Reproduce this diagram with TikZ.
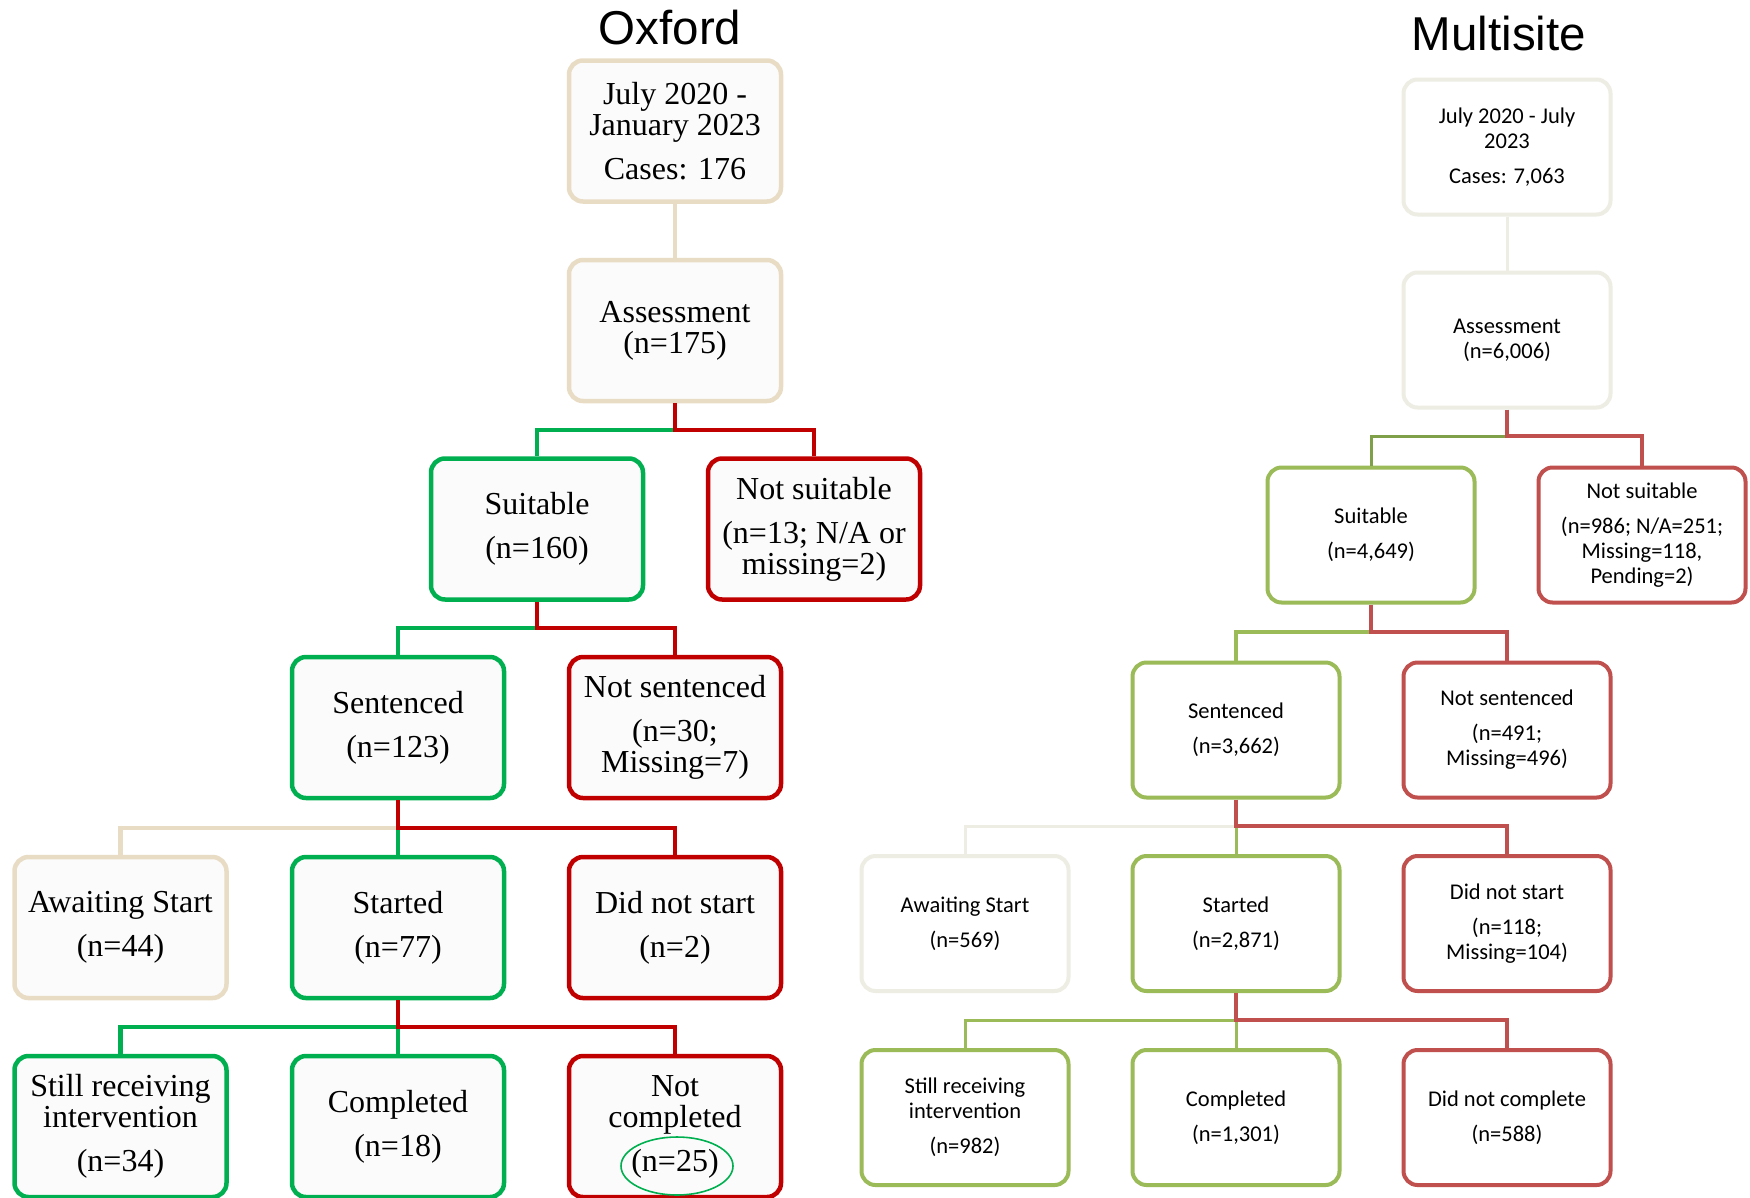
\documentclass[tikz,border=0pt]{standalone}
\usepackage{fontspec}
\newfontfamily\oxfont{Liberation Serif}
\newfontfamily\msfont{Carlito}
\newfontfamily\ttlfont{Liberation Sans}
\definecolor{oxbeige}{HTML}{E9DCC5}
\definecolor{oxgreen}{HTML}{00B050}
\definecolor{oxred}{HTML}{C00000}
\definecolor{oxfill}{HTML}{FBFBFB}
\definecolor{msbeige}{HTML}{EEEDE4}
\definecolor{msgreen}{HTML}{9BBB59}
\definecolor{msgreendk}{HTML}{7FA048}
\definecolor{msred}{HTML}{C0504D}
\tikzset{
  oxbox/.style={draw, line width=4.5, rounded corners=14, fill=oxfill,
    minimum width=212, minimum height=141, align=center, inner sep=0,
    font=\oxfont\fontsize{32}{31}\selectfont},
  msbox/.style={draw, line width=4, rounded corners=14, fill=white,
    minimum width=207, minimum height=135, align=center, inner sep=0,
    font=\msfont\fontsize{22.5}{25}\selectfont},
  oxline/.style={line width=4.5},
  msthin/.style={line width=3},
  msthick/.style={line width=4},
  ttl/.style={font=\ttlfont\fontsize{47.5}{50}\selectfont, anchor=base, inner sep=0}
}
\begin{document}
\begin{tikzpicture}[x=1pt,y=-1pt]
\useasboundingbox (0,0) rectangle (1750,1197);
\clip (0,0) rectangle (1750,1197);
\fill[white] (0,0) rectangle (1750,1197);

% titles
\node[ttl] (t1) at (670,44) {Oxford};
\node[ttl] (t2) at (1499,50) {Multisite};

% ---------------- Oxford ----------------
\node[oxbox, draw=oxbeige] (o1) at (675,131) {July 2020 -\\January 2023\\[13pt]Cases: 176};
\node[oxbox, draw=oxbeige] (o2) at (675,330.5) {Assessment\\(n=175)};
\node[oxbox, draw=oxgreen] (o3) at (537,529) {Suitable\\[13pt](n=160)};
\node[oxbox, draw=oxred] (o4) at (814,529) {Not suitable\\[13pt](n=13; N/A or\\missing=2)};
\node[oxbox, draw=oxgreen] (o5) at (398,727.5) {Sentenced\\[13pt](n=123)};
\node[oxbox, draw=oxred] (o6) at (675,727.5) {Not sentenced\\[13pt](n=30;\\Missing=7)};
\node[oxbox, draw=oxbeige] (o7) at (120.5,927.5) {Awaiting Start\\[13pt](n=44)};
\node[oxbox, draw=oxgreen] (o8) at (398,927.5) {Started\\[13pt](n=77)};
\node[oxbox, draw=oxred] (o9) at (675,927.5) {Did not start\\[13pt](n=2)};
\node[oxbox, draw=oxgreen] (o10) at (120.5,1126.5) {Still receiving\\intervention\\[13pt](n=34)};
\node[oxbox, draw=oxgreen] (o11) at (398,1126.5) {Completed\\[13pt](n=18)};
\node[oxbox, draw=oxred] (o12) at (675,1126.5) {Not\\completed\\[13pt](n=25)};

\coordinate (oj1) at (675,430);
\coordinate (oj2) at (537,628);
\coordinate (oj3) at (398,828);
\coordinate (oj4) at (398,1027);

\draw[oxline, oxbeige] (o1) -- (o2);
\draw[oxline, oxgreen] (oj1) -| (o3.north);
\draw[oxline, oxred] (o2.south) -- (oj1) -| (o4.north);
\draw[oxline, oxgreen] (oj2) -| (o5.north);
\draw[oxline, oxred] (o3.south) -- (oj2) -| (o6.north);
\draw[oxline, oxbeige] (oj3) -| (o7.north);
\draw[oxline, oxgreen] (oj3) -- (o8.north);
\draw[oxline, oxred] (o5.south) -- (oj3) -| (o9.north);
\draw[oxline, oxgreen] (oj4) -| (o10.north);
\draw[oxline, oxgreen] (oj4) -- (o11.north);
\draw[oxline, oxred] (o8.south) -- (oj4) -| (o12.north);

\draw[oxgreen, line width=1.6] (677,1166) ellipse [x radius=56, y radius=29];

% ---------------- Multisite ----------------
\node[msbox, draw=msbeige] (m1) at (1507,147) {July 2020 - July\\2023\\[10pt]Cases: 7,063};
\node[msbox, draw=msbeige] (m2) at (1507,340) {Assessment\\(n=6,006)};
\node[msbox, draw=msgreen] (m3) at (1371,535) {Suitable\\[10pt](n=4,649)};
\node[msbox, draw=msred] (m4) at (1642,535) {Not suitable\\[10pt](n=986; N/A=251;\\Missing=118,\\Pending=2)};
\node[msbox, draw=msgreen] (m5) at (1236,730) {Sentenced\\[10pt](n=3,662)};
\node[msbox, draw=msred] (m6) at (1507,730) {Not sentenced\\[10pt](n=491;\\Missing=496)};
\node[msbox, draw=msbeige] (m7) at (965,923.5) {Awaiting Start\\[10pt](n=569)};
\node[msbox, draw=msgreen] (m8) at (1236,923.5) {Started\\[10pt](n=2,871)};
\node[msbox, draw=msred] (m9) at (1507,923.5) {Did not start\\[10pt](n=118;\\Missing=104)};
\node[msbox, draw=msgreen] (m10) at (965,1117.5) {Still receiving\\intervention\\[10pt](n=982)};
\node[msbox, draw=msgreen] (m11) at (1236,1117.5) {Completed\\[10pt](n=1,301)};
\node[msbox, draw=msred] (m12) at (1507,1117.5) {Did not complete\\[10pt](n=588)};

\coordinate (mj1) at (1507,436);
\coordinate (mj2) at (1371,632);
\coordinate (mj3) at (1236,826);
\coordinate (mj4) at (1236,1020);

\draw[msthin, msbeige] (m1) -- (m2);
\draw[msthin, msgreendk] (mj1) -| (m3.north);
\draw[msthick, msred] (m2.south) -- (mj1) -| (m4.north);
\draw[msthick, msgreen] (mj2) -| (m5.north);
\draw[msthick, msred] (m3.south) -- (mj2) -| (m6.north);
\draw[msthin, msbeige] (mj3) -| (m7.north);
\draw[msthin, msgreen] (mj3) -- (m8.north);
\draw[msthick, msred] (m5.south) -- (mj3) -| (m9.north);
\draw[msthin, msgreen] (mj4) -| (m10.north);
\draw[msthin, msgreen] (mj4) -- (m11.north);
\draw[msthick, msred] (m8.south) -- (mj4) -| (m12.north);
\end{tikzpicture}
\end{document}
